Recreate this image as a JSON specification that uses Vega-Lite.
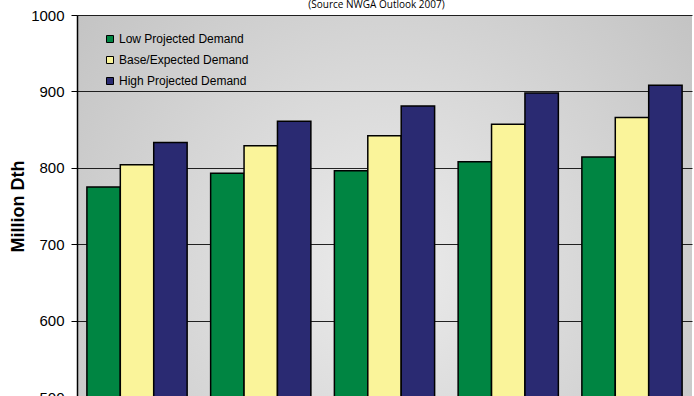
{
  "$schema": "https://vega.github.io/schema/vega-lite/v6.json",
  "autosize": "none",
  "width": 615,
  "height": 382,
  "padding": {"left": 77, "top": 15, "right": 2, "bottom": 0},
  "background": "white",
  "title": {"text": "(Source NWGA Outlook 2007)", "fontSize": 10, "font": "Open Sans", "fontWeight": "normal", "color": "black", "offset": -2, "dx": -8, "anchor": "middle"},
  "config": {
    "view": {
      "stroke": null,
      "fill": {"gradient": "radial", "x1": 0.5, "y1": 0.6, "x2": 0.5, "y2": 0.6, "r1": 0, "r2": 0.75,
        "stops": [{"offset": 0, "color": "#ececec"}, {"offset": 1, "color": "#bdbdbd"}]}
    },
    "font": "Arial",
    "axis": {"labelFont": "Arial", "titleFont": "Arial"},
    "legend": {"labelFont": "Arial"}
  },
  "data": {"values": [
    {"year": "2008", "series": "Low Projected Demand", "value": 775},
    {"year": "2008", "series": "Base/Expected Demand", "value": 804},
    {"year": "2008", "series": "High Projected Demand", "value": 833},
    {"year": "2009", "series": "Low Projected Demand", "value": 793},
    {"year": "2009", "series": "Base/Expected Demand", "value": 829},
    {"year": "2009", "series": "High Projected Demand", "value": 861},
    {"year": "2010", "series": "Low Projected Demand", "value": 796},
    {"year": "2010", "series": "Base/Expected Demand", "value": 842},
    {"year": "2010", "series": "High Projected Demand", "value": 881},
    {"year": "2011", "series": "Low Projected Demand", "value": 808},
    {"year": "2011", "series": "Base/Expected Demand", "value": 857},
    {"year": "2011", "series": "High Projected Demand", "value": 898},
    {"year": "2012", "series": "Low Projected Demand", "value": 814},
    {"year": "2012", "series": "Base/Expected Demand", "value": 866},
    {"year": "2012", "series": "High Projected Demand", "value": 908}
  ]},
  "mark": {"type": "bar", "stroke": "black", "strokeWidth": 1.5, "clip": true},
  "encoding": {
    "x": {"field": "year", "type": "nominal", "scale": {"paddingInner": 0.19, "paddingOuter": 0.08},
      "axis": {"title": null, "labels": false, "domain": false, "ticks": false}},
    "xOffset": {"field": "series", "type": "nominal", "sort": ["Low Projected Demand", "Base/Expected Demand", "High Projected Demand"], "scale": {"paddingInner": 0, "paddingOuter": 0}},
    "y": {"field": "value", "type": "quantitative", "scale": {"domain": [500, 1000], "nice": false, "zero": false},
      "axis": {"title": "Million Dth", "titleFontSize": 18, "titleFontWeight": "bold", "titleColor": "black", "titlePadding": 3,
        "values": [500, 600, 700, 800, 900, 1000], "format": "d", "labelFontSize": 15, "labelColor": "black", "labelPadding": 7,
        "tickColor": "black", "tickSize": 6, "domainColor": "black", "domainWidth": 1.5,
        "grid": true, "gridColor": "black", "gridWidth": 1.2, "gridOpacity": 0.85}},
    "fill": {"field": "series", "type": "nominal",
      "scale": {"domain": ["Low Projected Demand", "Base/Expected Demand", "High Projected Demand"], "range": ["#008542", "#faf49a", "#2a2a72"]},
      "legend": {"title": null, "orient": "none", "legendX": 27, "legendY": 18, "symbolType": "square", "symbolSize": 49,
        "symbolStrokeColor": "black", "symbolStrokeWidth": 1, "labelFontSize": 12, "labelColor": "black", "rowPadding": 9, "labelOffset": 3}}
  }
}
